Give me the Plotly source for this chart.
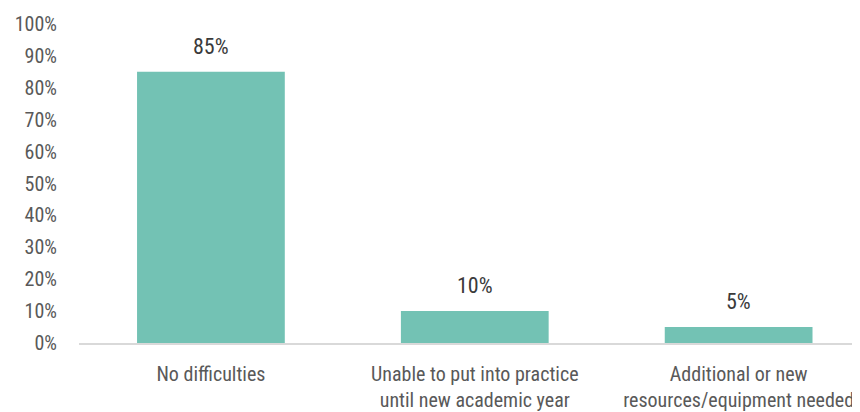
import plotly.graph_objects as go

categories = ["No difficulties",
              "Unable to put into practice<br>until new academic year",
              "Additional or new<br>resources/equipment needed"]
values = [85, 10, 5]
value_labels = ["85%", "10%", "5%"]
y_ticks = [0, 10, 20, 30, 40, 50, 60, 70, 80, 90, 100]
y_tick_labels = [f"{v}%" for v in y_ticks]

FONT = "Liberation Sans Narrow, Arial Narrow, Roboto Condensed, sans-serif"

fig = go.Figure(go.Bar(
    x=list(range(len(categories))),
    y=values,
    width=0.56,
    marker=dict(color="#73C2B4", line=dict(width=0)),
))

for i, (v, t) in enumerate(zip(values, value_labels)):
    fig.add_annotation(x=i, y=v, text=t, showarrow=False, yanchor="bottom",
                       yshift=11, font=dict(family=FONT, size=22, color="#3a3a3a"))

fig.update_layout(
    width=852, height=404,
    margin=dict(l=71, r=0, t=16, b=69),
    plot_bgcolor="white", paper_bgcolor="white",
    showlegend=False,
    font=dict(family=FONT, size=20, color="#595959"),
)
fig.update_xaxes(
    tickmode="array", tickvals=list(range(len(categories))), ticktext=categories,
    range=[-0.5, 2.46], showline=True, linecolor="#d9d9d9", linewidth=1.5,
    ticks="outside", ticklen=12, tickcolor="rgba(0,0,0,0)",
    tickfont=dict(family=FONT, size=20, color="#595959"), showgrid=False,
    automargin=False,
)
fig.update_yaxes(
    range=[0, 100], tickmode="array", tickvals=y_ticks, ticktext=y_tick_labels,
    showgrid=False, zeroline=False, showline=False,
    ticks="outside", ticklen=17, tickcolor="rgba(0,0,0,0)",
    tickfont=dict(family=FONT, size=20, color="#595959"),
    automargin=False,
)

fig.write_html("out.html")
